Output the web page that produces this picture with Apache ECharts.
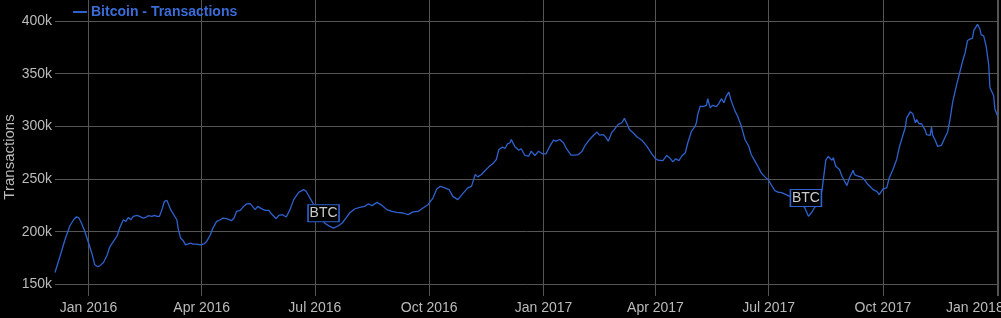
<!DOCTYPE html>
<html>
<head>
<meta charset="utf-8">
<script src="https://cdn.jsdelivr.net/npm/echarts@6/dist/echarts.min.js"></script>
<style>
html,body{margin:0;padding:0;background:#000;}
#chart{width:1001px;height:318px;}
</style>
</head>
<body>
<div id="chart"></div>
<script>
// Day offsets from 2016-01-01 and daily transactions (thousands)
const startDate = [2016, 0, 1];
const days = [-27,-23,-19,-15,-12,-10,-8,-6,-3,0,3,5,7,9,12,15,17,20,23,25,28,30,32,34,36,39,41,44,46,48,51,53,55,57,59,61,63,64,66,69,71,72,74,76,78,79,82,84,87,90,93,95,98,100,103,106,108,111,115,117,119,122,124,127,130,134,136,139,142,145,147,151,153,156,159,162,165,169,173,175,178,182,186,188,190,194,197,201,204,207,210,214,218,222,225,228,232,236,240,244,248,253,257,261,265,269,273,277,280,283,287,290,293,297,301,305,308,311,313,316,319,322,325,328,330,333,335,337,339,340,343,346,348,351,354,356,359,362,365,368,371,374,376,379,382,384,388,391,394,397,399,403,406,409,411,414,416,418,421,423,426,429,431,433,435,438,441,445,449,453,456,458,462,465,468,470,472,475,477,480,482,485,488,489,490,492,494,497,498,500,502,505,507,509,511,513,515,517,520,522,525,528,531,533,536,539,541,544,547,549,552,555,557,561,564,567,572,576,579,582,584,588,590,593,595,598,599,601,604,606,610,612,615,616,619,622,624,627,631,634,636,639,642,644,647,650,652,657,658,661,663,665,666,668,670,673,674,677,678,679,681,683,686,689,691,693,695,698,701,703,705,707,709,711,712,715,717,718,720,722,724,725,728,729,731];
const transactions = [161.3,176.5,192.4,205.7,211.4,214,213.5,209,200.3,189.3,178.1,168.6,167,167.6,170.8,178,185.5,190.8,196.2,203.5,211.4,209.8,213.6,211.4,214.6,215.6,214.6,213,213.6,215.2,214.6,215.6,214.6,214.6,221,228.9,229.8,228.9,221,215.2,211.4,203.5,194,191.7,187.6,189.2,189.2,188.3,188.3,187.6,188.6,190.8,197.2,203.5,209.8,211.4,213,212.4,210.5,213,219.3,220.3,223.2,226.4,226.7,221,224.1,221.9,220.3,220.3,217.1,212.4,215.6,216.2,214,221,230.5,237.4,240,238.4,232.1,224,216,212,208,205.1,203.5,205.7,208.3,213,217.8,221.6,223.2,224.1,226.4,224.8,227.9,225,221,219.3,218.4,217.8,216.2,218.8,219.3,222.6,225.7,232,240.6,243.1,241.5,240,233.6,230.5,236.2,241.6,243.1,254.3,252.1,254.3,258.1,261.6,264.5,268.6,278.1,280.3,279,283.5,284.5,287.6,280.6,277.4,278.8,272.4,271.7,276.5,272.4,276.5,274,274,281.2,286.9,286,287.6,284.5,279.7,272.7,272.7,273.3,276.5,281.2,287.6,291.4,294.6,291.7,292.3,289.8,286,294.6,297.1,301.9,303.5,307.6,302.8,297.1,294,290.2,286.9,281.2,274,269.5,267.9,267.6,272.4,269.5,266.4,269.2,267.6,271.7,275,284.5,295.6,300.3,304.1,311.4,319.3,318.7,320,326.3,317.8,320,318.7,321.9,326.3,322.5,328.8,332.6,324,314.5,309.8,300.3,287.6,281.2,273.3,267,260.7,255.9,252.1,248.9,244.8,239.1,237.4,237.4,235.2,233.6,233,228,223,214.6,219,223,230,240,268,271.5,267.9,270.2,262.2,259,252.7,243.8,251.1,258.4,254.3,252.7,251.7,249.5,244.8,240,238.4,235.2,240.7,241.6,251.1,259,268.6,279.7,299.4,307.8,314,311.9,303.4,306.5,302.5,302.5,296.2,292.2,291.5,299.4,291.5,286.8,281,282,290,294.7,307.2,322.8,338.4,352.5,361.8,369.7,381.5,382.8,383.8,390.9,396.9,392.2,386.9,385.9,375.9,358.7,336.9,329,316.6,310.3];
// Annotations
const eventDays = [189, 577];
const eventValues = [217.6, 232];
const eventLabels = ['BTC', 'BTC'];
const seriesName = 'Bitcoin - Transactions';
const yAxisName = 'Transactions';
const monthNames = ['Jan','Feb','Mar','Apr','May','Jun','Jul','Aug','Sep','Oct','Nov','Dec'];
const lastTickYear = 2018;

function dayToTime(d){ return new Date(startDate[0], startDate[1], startDate[2] + d).getTime(); }

const lineData = days.map((d,i)=>[dayToTime(d), transactions[i]]);
const markData = eventDays.map((d,i)=>({coord:[dayToTime(d), eventValues[i]], value: eventLabels[i]}));

const chart = echarts.init(document.getElementById('chart'), null, {renderer:'canvas'});
const QUARTER = 92*86400000;
chart.setOption({
  backgroundColor: '#000',
  animation: false,
  textStyle: {fontFamily: 'Liberation Sans, Arial, sans-serif'},
  legend: {
    left: 73, top: 4, padding: 0,
    icon: 'rect', itemWidth: 14, itemHeight: 2, itemGap: 10,
    textStyle: {color: '#3a6bd6', fontSize: 14, fontWeight: 'bold', lineHeight: 16, padding: [0,0,0,-1]},
    data: [seriesName]
  },
  grid: {left: 55, right: 3, top: 0, bottom: 22, containLabel: false, outerBoundsMode: 'none'},
  xAxis: {
    type: 'time',
    min: dayToTime(-27), max: dayToTime(731) + 43200000,
    minInterval: QUARTER, maxInterval: QUARTER,
    axisLine: {show: false}, axisTick: {show: false},
    splitLine: {show: true, showMinLine: false, lineStyle: {color: '#555', width: 1}},
    axisLabel: {
      color: '#bbb', fontSize: 14, margin: 5, hideOverlap: false, showMinLabel: false,
      formatter: function(v){
        const d = new Date(v);
        if (d.getDate() !== 1) return '';
        const txt = monthNames[d.getMonth()] + ' ' + d.getFullYear();
        return d.getFullYear() === lastTickYear ? '{last|' + txt + '}' : txt;
      },
      rich: {last: {color: '#bbb', fontSize: 14, padding: [0, 45, 0, 0]}}
    }
  },
  yAxis: {
    type: 'value', min: 139, max: 420,
    name: yAxisName, nameLocation: 'middle', nameGap: 38, nameMoveOverlap: false,
    nameTextStyle: {color: '#bbb', fontSize: 15, padding: [0, 18, 0, 0]},
    axisLine: {show: false}, axisTick: {show: false},
    splitLine: {show: true, showMinLine: false, showMaxLine: false, lineStyle: {color: '#555', width: 1}},
    axisLabel: {color: '#bbb', fontSize: 14, margin: 3, showMinLabel: false, showMaxLabel: false,
      formatter: function(v){ return v + 'k'; }}
  },
  series: [{
    name: seriesName, type: 'line', data: lineData, showSymbol: false, symbol: 'none',
    lineStyle: {color: '#2f62cf', width: 1.3}, itemStyle: {color: '#2f62cf'},
    smooth: false,
    markPoint: {
      symbol: 'rect', symbolSize: [31, 17],
      itemStyle: {color: '#000', borderColor: '#2f62cf', borderWidth: 1.2},
      label: {show: true, color: '#ccc', fontSize: 14, formatter: function(p){ return p.value; }},
      data: markData
    }
  }]
});
</script>
</body>
</html>
